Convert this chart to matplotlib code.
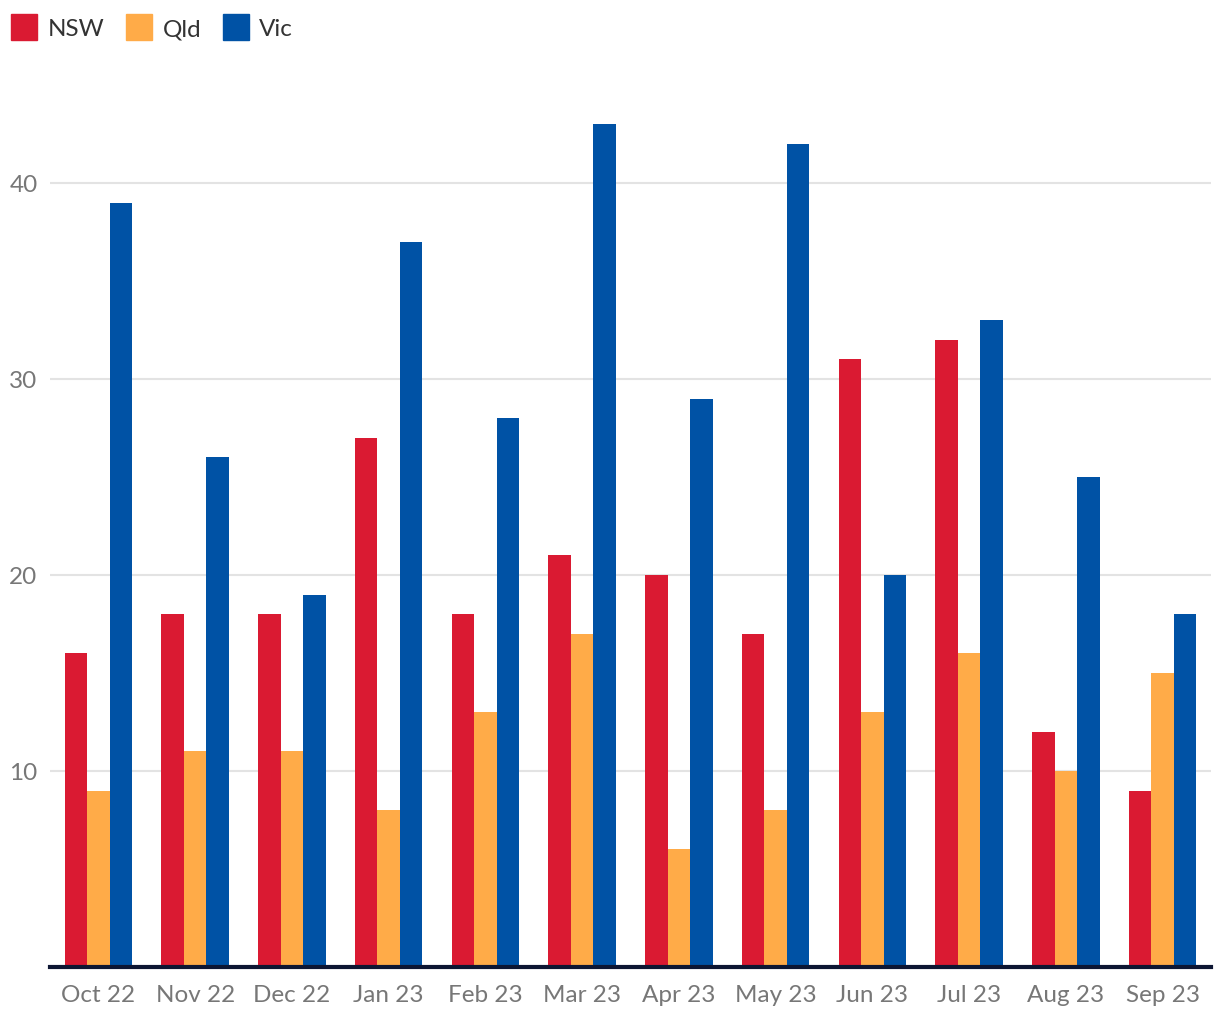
import numpy as np
import matplotlib.pyplot as plt
from matplotlib.lines import Line2D

# --- data ---
months = ['Oct 22', 'Nov 22', 'Dec 22', 'Jan 23', 'Feb 23', 'Mar 23',
          'Apr 23', 'May 23', 'Jun 23', 'Jul 23', 'Aug 23', 'Sep 23']
nsw = [16, 18, 18, 27, 18, 21, 20, 17, 31, 32, 12, 9]
qld = [9, 11, 11, 8, 13, 17, 6, 8, 13, 16, 10, 15]
vic = [39, 26, 19, 37, 28, 43, 29, 42, 20, 33, 25, 18]

series = ['NSW', 'Qld', 'Vic']
colors = ['#DA1A32', '#FFAB48', '#0052A5']

plt.rcParams['font.family'] = ['Lato', 'DejaVu Sans']

fig = plt.figure(figsize=(12.2, 10.2), dpi=100)
ax = fig.add_axes([50 / 1220, 0.051, 1161 / 1220, 0.8647])

x = np.arange(len(months))
w = 0.7 / 3
for i, (vals, c) in enumerate(zip([nsw, qld, vic], colors)):
    ax.bar(x + (i - 1) * w, vals, width=w, color=c, zorder=2)

ax.set_xlim(-0.5, len(months) - 0.5)
ax.set_ylim(0, 45)
ax.set_yticks([10, 20, 30, 40])
ax.set_xticks(x)
ax.set_xticklabels(months)
ax.grid(axis='y', color='#e3e3e3', linewidth=1.5, zorder=0)
ax.tick_params(axis='both', length=0, labelsize=17.5, labelcolor='#777777')
ax.tick_params(axis='x', pad=12)
ax.tick_params(axis='y', pad=9)

for s in ['top', 'right', 'left']:
    ax.spines[s].set_visible(False)
ax.spines['bottom'].set_color('#0D1633')
ax.spines['bottom'].set_linewidth(3)
ax.spines['bottom'].set_zorder(3)

handles = [Line2D([], [], marker='s', linestyle='none', markersize=19,
                  markerfacecolor=c, markeredgecolor=c) for c in colors]
fig.legend(handles, series, loc='upper left', bbox_to_anchor=(-0.006, 1.0),
           ncol=3, frameon=False, fontsize=17.5, handletextpad=0.45,
           columnspacing=0.95, borderaxespad=0.4, labelcolor='#333333',
           handlelength=1.0)

fig.savefig('out.png', dpi=100)
